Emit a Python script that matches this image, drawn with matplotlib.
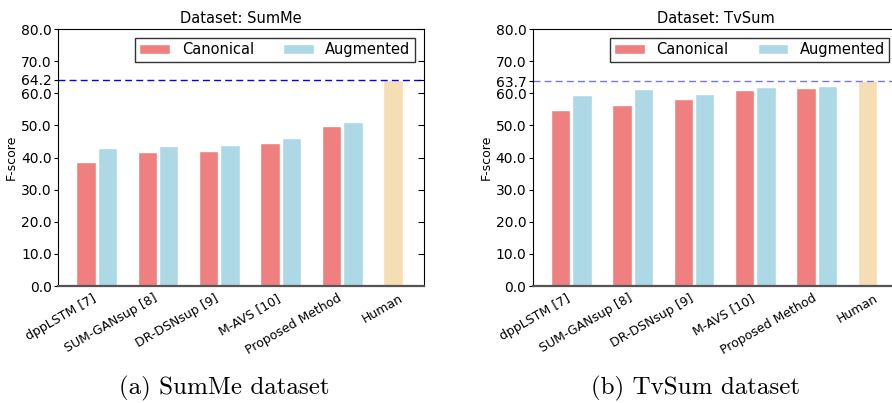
import numpy as np
import matplotlib
matplotlib.use("Agg")
import matplotlib.pyplot as plt

methods = ["dppLSTM [7]", "SUM-GANsup [8]", "DR-DSNsup [9]", "M-AVS [10]",
           "Proposed Method", "Human"]

summe_canonical = [38.6, 41.7, 42.1, 44.4, 49.7]
summe_augmented = [43.0, 43.6, 43.9, 46.1, 51.1]
summe_human = 64.2

tvsum_canonical = [54.8, 56.4, 58.2, 61.1, 61.5]
tvsum_augmented = [59.6, 61.3, 59.8, 61.9, 62.4]
tvsum_human = 63.7

c_can = "#F08080"
c_aug = "#ADD8E6"
c_hum = "#F5DEB3"


def draw_panel(ax, canonical, augmented, human, title, line_alpha):
    n = len(canonical)
    x = np.arange(n)
    w = 0.315
    ax.bar(x, canonical, w, align="edge", color=c_can, edgecolor="white",
           linewidth=1, label="Canonical")
    ax.bar(x + 0.348, augmented, w, align="edge", color=c_aug, edgecolor="white",
           linewidth=1, label="Augmented")
    ax.bar([n], [human], w, align="edge", color=c_hum, edgecolor="white", linewidth=1)
    ax.axhline(human, color="blue", linestyle="--", linewidth=1, dashes=(5, 3),
               alpha=line_alpha)

    ax.set_xlim(-0.3, 5.66)
    ax.set_ylim(0, 80)
    yt = [0, 10, 20, 30, 40, 50, 60, human, 70, 80]
    ax.set_yticks(yt)
    ax.set_yticklabels(["%.1f" % v for v in yt], fontsize=10)
    ax.tick_params(axis="y", direction="out", length=3, pad=1.5, right=False)
    ax.set_xticks(np.arange(n + 1) + 0.36)
    ax.set_xticklabels(methods, rotation=30, ha="right", fontsize=9)
    ax.tick_params(axis="x", length=0, pad=4)
    ax.set_ylabel("F-score", fontsize=9, labelpad=2)
    ax.set_title(title, fontsize=10.5, pad=4)
    ax.spines["bottom"].set_color("#555555")
    ax.spines["bottom"].set_linewidth(1.6)

    # inward ticks on the right spine
    rt = ax.twinx()
    rt.set_ylim(0, 80)
    rt.set_yticks(yt[1:])
    rt.tick_params(axis="y", direction="in", length=4, labelright=False)
    for s in rt.spines.values():
        s.set_visible(False)

    leg = ax.legend(loc="upper right", ncol=2, fontsize=10.5, frameon=True,
                    fancybox=False, edgecolor="black", borderaxespad=0.6,
                    handlelength=2.1, columnspacing=2.0, borderpad=0.3)
    leg.get_frame().set_linewidth(1)


fig = plt.figure(figsize=(8.92, 4.03), dpi=100)
ax1 = fig.add_axes([0.065, 0.29, 0.41, 0.638])
ax2 = fig.add_axes([0.597, 0.29, 0.41, 0.638])

draw_panel(ax1, summe_canonical, summe_augmented, summe_human, "Dataset: SumMe", 1.0)
draw_panel(ax2, tvsum_canonical, tvsum_augmented, tvsum_human, "Dataset: TvSum", 0.55)

fig.text(0.251, 0.035, "(a) SumMe dataset", fontsize=18, family="cmr10",
         ha="center", va="center")
fig.text(0.780, 0.035, "(b) TvSum dataset", fontsize=18, family="cmr10",
         ha="center", va="center")

fig.savefig("out.png", dpi=100)
